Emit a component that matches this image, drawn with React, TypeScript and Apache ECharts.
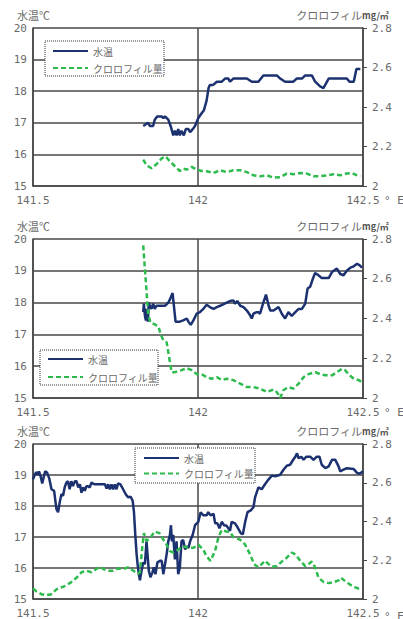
import React, { useEffect, useRef } from "react";
import * as echarts from "echarts";

const xTicks = [141.5, 142, 142.5];
const tempRange = [15, 20];
const chlRange = [2, 2.8];
const seriesNames = ["水温", "クロロフィル量"];

// Panel 1
const lon1T = [141.834,141.849,141.854,141.864,141.869,141.876,141.890,141.895,141.900,141.910,141.917,141.925,141.930,141.935,141.940,141.945,141.950,141.957,141.963,141.971,141.976,141.984,141.991,142.001,142.011,142.018,142.026,142.032,142.036,142.046,142.057,142.072,142.082,142.092,142.097,142.107,142.148,142.163,142.183,142.198,142.239,142.249,142.264,142.289,142.299,142.315,142.325,142.345,142.355,142.370,142.380,142.396,142.451,142.459,142.472,142.480,142.492];
const tmp1 = [16.9,17.0,16.9,16.9,17.1,17.2,17.2,17.15,17.2,17.1,16.9,16.6,16.75,16.6,16.8,16.6,16.75,16.6,16.8,16.8,16.7,16.8,16.9,17.15,17.3,17.4,17.7,18.1,18.2,18.2,18.3,18.3,18.4,18.4,18.3,18.4,18.4,18.3,18.3,18.5,18.5,18.4,18.3,18.3,18.4,18.4,18.5,18.5,18.3,18.15,18.1,18.4,18.4,18.3,18.3,18.7,18.7];
const lon1C = [141.834,141.844,141.859,141.874,141.890,141.902,141.910,141.920,141.930,141.945,141.955,141.966,141.981,141.996,142.011,142.026,142.047,142.067,142.087,142.107,142.128,142.148,142.168,142.188,142.209,142.229,142.249,142.269,142.289,142.310,142.330,142.350,142.370,142.391,142.411,142.431,142.451,142.467,142.482,142.492];
const chl1 = [2.134,2.105,2.09,2.11,2.14,2.15,2.134,2.117,2.10,2.076,2.088,2.083,2.097,2.083,2.076,2.075,2.066,2.08,2.07,2.08,2.08,2.07,2.054,2.049,2.054,2.042,2.045,2.063,2.06,2.066,2.063,2.049,2.05,2.054,2.06,2.054,2.063,2.066,2.054,2.049];

// Panel 2
const lon2T = [141.834,141.836,141.839,141.842,141.845,141.848,141.851,141.854,141.859,141.864,141.869,141.874,141.885,141.900,141.910,141.915,141.923,141.927,141.932,141.945,141.955,141.966,141.971,141.978,141.986,141.996,142.006,142.016,142.026,142.036,142.047,142.057,142.067,142.087,142.097,142.107,142.112,142.119,142.128,142.138,142.148,142.158,142.163,142.168,142.178,142.183,142.188,142.198,142.206,142.214,142.219,142.229,142.244,142.254,142.264,142.274,142.284,142.295,142.305,142.315,142.325,142.332,142.340,142.348,142.355,142.365,142.375,142.396,142.406,142.421,142.431,142.441,142.451,142.462,142.472,142.482,142.490,142.497];
const tmp2 = [17.7,17.97,17.6,17.44,17.8,17.4,18.0,17.9,17.8,17.97,17.8,17.9,17.9,17.9,18.0,18.1,18.3,17.9,17.4,17.4,17.44,17.5,17.4,17.3,17.44,17.65,17.7,17.8,17.93,17.86,17.8,17.86,17.9,18.0,18.05,18.07,17.97,18.05,17.9,17.86,17.75,17.6,17.5,17.65,17.7,17.7,17.65,18.0,18.25,17.9,17.75,17.75,17.86,17.65,17.5,17.7,17.58,17.7,17.8,17.8,17.97,18.44,18.5,18.75,18.93,18.86,18.77,18.77,18.96,19.07,18.9,18.86,19.0,19.1,19.14,19.22,19.17,19.1];
const lon2C = [141.834,141.839,141.844,141.849,141.856,141.869,141.880,141.887,141.895,141.905,141.910,141.915,141.920,141.930,141.950,141.966,141.981,141.996,142.011,142.026,142.041,142.057,142.072,142.087,142.107,142.128,142.148,142.168,142.188,142.209,142.224,142.234,142.244,142.249,142.259,142.274,142.289,142.305,142.320,142.335,142.355,142.370,142.386,142.406,142.421,142.436,142.446,142.456,142.472,142.487,142.497];
const chl2 = [2.768,2.65,2.54,2.42,2.38,2.37,2.36,2.32,2.29,2.28,2.23,2.18,2.13,2.13,2.14,2.15,2.14,2.12,2.12,2.105,2.097,2.105,2.09,2.097,2.09,2.072,2.055,2.055,2.047,2.03,2.04,2.04,2.017,2.0,2.04,2.055,2.047,2.072,2.105,2.12,2.13,2.12,2.114,2.114,2.13,2.147,2.14,2.12,2.097,2.09,2.08];

// Panel 3
const lon3T = [141.500,141.505,141.510,141.515,141.518,141.523,141.528,141.533,141.537,141.543,141.549,141.556,141.564,141.571,141.576,141.581,141.586,141.591,141.596,141.601,141.606,141.611,141.616,141.621,141.627,141.632,141.637,141.642,141.647,141.652,141.657,141.662,141.667,141.672,141.677,141.687,141.702,141.718,141.723,141.728,141.733,141.738,141.743,141.748,141.753,141.758,141.765,141.773,141.781,141.788,141.796,141.802,141.806,141.810,141.814,141.817,141.820,141.824,141.829,141.834,141.839,141.844,141.847,141.851,141.856,141.862,141.866,141.871,141.877,141.885,141.890,141.895,141.900,141.905,141.910,141.915,141.918,141.921,141.925,141.930,141.935,141.940,141.945,141.950,141.955,141.961,141.966,141.971,141.976,141.984,141.991,142.001,142.008,142.016,142.026,142.031,142.038,142.047,142.052,142.059,142.065,142.072,142.079,142.087,142.097,142.102,142.112,142.119,142.130,142.136,142.143,142.150,142.160,142.168,142.173,142.183,142.193,142.203,142.214,142.224,142.234,142.249,142.259,142.269,142.279,142.289,142.295,142.300,142.305,142.313,142.320,142.328,142.340,142.350,142.360,142.368,142.375,142.386,142.396,142.406,142.416,142.426,142.431,142.441,142.451,142.472,142.482,142.490,142.500];
const tmp3 = [18.86,19.0,19.09,19.0,19.12,18.96,18.73,18.96,19.12,19.07,18.9,18.54,18.49,17.9,17.8,18.12,18.38,18.33,18.6,18.75,18.8,18.54,18.8,18.64,18.8,18.8,18.6,18.7,18.43,18.6,18.49,18.64,18.64,18.6,18.75,18.7,18.7,18.7,18.56,18.7,18.54,18.7,18.54,18.7,18.54,18.73,18.7,18.54,18.38,18.28,18.3,18.17,17.8,17.07,16.44,16.12,15.86,15.6,15.91,16.18,16.12,16.86,16.44,15.91,15.7,15.86,16.02,15.8,16.18,16.23,16.23,15.8,16.12,16.44,16.86,17.07,17.38,16.86,17.07,16.28,16.86,15.8,16.02,16.86,16.9,16.6,16.7,16.65,16.86,17.07,17.38,17.49,17.8,17.7,17.7,17.8,17.7,17.75,17.44,17.44,17.28,17.49,17.38,17.36,17.2,17.49,17.44,17.33,17.12,17.09,17.49,17.8,17.86,17.96,18.28,18.6,18.54,18.7,18.86,18.98,18.96,19.01,19.17,19.3,19.33,19.5,19.59,19.7,19.54,19.59,19.49,19.59,19.59,19.49,19.59,19.59,19.33,19.22,19.28,19.49,19.49,19.28,19.12,19.17,19.22,19.19,19.07,19.04,19.12];
const lon3C = [141.500,141.510,141.525,141.540,141.556,141.571,141.586,141.601,141.616,141.632,141.647,141.662,141.677,141.692,141.702,141.713,141.728,141.743,141.758,141.773,141.788,141.804,141.819,141.824,141.831,141.836,141.844,141.854,141.869,141.883,141.895,141.905,141.915,141.925,141.940,141.955,141.971,141.986,142.001,142.016,142.026,142.038,142.052,142.062,142.072,142.087,142.097,142.107,142.122,142.133,142.143,142.158,142.170,142.183,142.193,142.203,142.214,142.224,142.239,142.254,142.269,142.284,142.295,142.310,142.325,142.335,142.345,142.355,142.365,142.381,142.396,142.411,142.426,142.433,142.443,142.456,142.472,142.487,142.497];
const chl3 = [2.054,2.04,2.025,2.02,2.025,2.05,2.06,2.07,2.087,2.11,2.138,2.146,2.138,2.155,2.166,2.155,2.146,2.146,2.158,2.155,2.163,2.146,2.13,2.138,2.264,2.34,2.3,2.313,2.348,2.34,2.306,2.28,2.247,2.24,2.255,2.272,2.264,2.264,2.28,2.255,2.22,2.197,2.25,2.32,2.356,2.348,2.345,2.32,2.31,2.3,2.28,2.23,2.18,2.163,2.18,2.197,2.18,2.166,2.17,2.193,2.213,2.24,2.23,2.197,2.17,2.18,2.193,2.163,2.11,2.087,2.082,2.087,2.096,2.11,2.096,2.08,2.062,2.054,2.057];

const panels = [
  { lonT: lon1T, tmp: tmp1, lonC: lon1C, chl: chl1 },
  { lonT: lon2T, tmp: tmp2, lonC: lon2C, chl: chl2 },
  { lonT: lon3T, tmp: tmp3, lonC: lon3C, chl: chl3 },
];

const FONT = '"Noto Sans CJK JP", "Noto Sans", sans-serif';
const NUM_FONT = '"DejaVu Sans Mono", "Noto Sans CJK JP", monospace';
const GRID_COLOR = "#474747";
const TEXT_COLOR = "#6a6a6a";
const TEMP_COLOR = "#1c3170";
const CHL_COLOR = "#2dbb4e";

const gridBoxes = [
  { left: 33, top: 28, width: 330, height: 158 },
  { left: 33, top: 239, width: 330, height: 159 },
  { left: 33, top: 444, width: 330, height: 158 },
];
const legendBoxes = [
  { x: 45, y: 41, w: 119, h: 35, itemLeft: 52, itemTop: 46, gap: 7 },
  { x: 40, y: 350, w: 118, h: 35, itemLeft: 47, itemTop: 354, gap: 8 },
  { x: 135, y: 448, w: 120, h: 35, itemLeft: 143, itemTop: 453, gap: 5.5 },
];

export default function App() {
  const ref = useRef<HTMLDivElement>(null);
  useEffect(() => {
    if (!ref.current) return;
    const chart = echarts.init(ref.current, undefined, { renderer: "svg" });

    const xAxis = gridBoxes.map((_, i) => ({
      type: "value",
      gridIndex: i,
      min: xTicks[0],
      max: xTicks[2],
      interval: 0.5,
      axisLine: { show: true, lineStyle: { color: GRID_COLOR, width: 1.5 } },
      axisTick: { show: false },
      axisLabel: { color: TEXT_COLOR, fontSize: 11, fontFamily: NUM_FONT, margin: 9 },
      splitLine: { show: true, lineStyle: { color: GRID_COLOR, width: 1.5 } },
    }));

    const yAxis: any[] = [];
    gridBoxes.forEach((_, i) => {
      yAxis.push({
        type: "value",
        gridIndex: i,
        position: "left",
        min: tempRange[0],
        max: tempRange[1],
        interval: 1,
        axisLine: { show: true, lineStyle: { color: GRID_COLOR, width: 1.5 } },
        axisTick: { show: false },
        axisLabel: { color: TEXT_COLOR, fontSize: 11, fontFamily: NUM_FONT, margin: 6 },
        splitLine: { show: true, lineStyle: { color: GRID_COLOR, width: 1.5 } },
      });
      yAxis.push({
        type: "value",
        gridIndex: i,
        position: "right",
        min: chlRange[0],
        max: chlRange[1],
        interval: 0.2,
        axisLine: { show: true, lineStyle: { color: GRID_COLOR, width: 1.5 } },
        axisTick: { show: true, length: 4, lineStyle: { color: GRID_COLOR, width: 1 } },
        axisLabel: { color: TEXT_COLOR, fontSize: 11, fontFamily: NUM_FONT, margin: 9 },
        splitLine: { show: false },
      });
    });

    const series: any[] = [];
    panels.forEach((p, i) => {
      series.push({
        name: seriesNames[0],
        type: "line",
        xAxisIndex: i,
        yAxisIndex: 2 * i,
        symbol: "none",
        data: p.lonT.map((x, k) => [x, p.tmp[k]]),
        lineStyle: { color: TEMP_COLOR, width: 2.5 },
        itemStyle: { color: TEMP_COLOR },
        z: 3,
      });
      series.push({
        name: seriesNames[1],
        type: "line",
        xAxisIndex: i,
        yAxisIndex: 2 * i + 1,
        symbol: "none",
        data: p.lonC.map((x, k) => [x, p.chl[k]]),
        lineStyle: { color: CHL_COLOR, width: 2.5, type: [5, 3] },
        itemStyle: { color: CHL_COLOR },
        z: 3,
      });
    });

    const legend = legendBoxes.map((b) => ({
      left: b.itemLeft,
      top: b.itemTop,
      orient: "vertical",
      itemGap: b.gap,
      itemWidth: 35,
      itemHeight: 10,
      padding: 0,
      selectedMode: false,
      data: seriesNames,
      itemStyle: { opacity: 0 },
      textStyle: { color: TEXT_COLOR, fontSize: 10, fontFamily: FONT },
      z: 12,
    }));

    const graphic: any[] = [];
    gridBoxes.forEach((g, i) => {
      const b = legendBoxes[i];
      graphic.push({
        type: "rect",
        shape: { x: b.x, y: b.y, width: b.w, height: b.h },
        style: { fill: "#fff", stroke: "#333", lineWidth: 1, lineDash: [1, 1] },
        z: 10,
      });
      graphic.push({
        type: "text",
        x: 17,
        y: g.top - 13,
        style: { text: "水温℃", fill: TEXT_COLOR, font: `11px ${FONT}`, verticalAlign: "middle" },
        z: 10,
      });
      graphic.push({
        type: "text",
        x: 362,
        y: g.top - 13,
        style: { text: "クロロフィル", fill: TEXT_COLOR, font: `11px ${FONT}`, align: "right", verticalAlign: "middle" },
        z: 10,
      });
      graphic.push({
        type: "text",
        x: 362,
        y: g.top - 13,
        style: { text: "mg/㎡", fill: "#555", font: `bold 9px ${FONT}`, align: "left", verticalAlign: "middle" },
        z: 10,
      });
      graphic.push({
        type: "text",
        x: 384,
        y: g.top + g.height + 14,
        style: { text: "° E", fill: TEXT_COLOR, font: `11px ${NUM_FONT}`, verticalAlign: "middle" },
        z: 10,
      });
    });

    chart.setOption({
      animation: false,
      backgroundColor: "#fff",
      grid: gridBoxes.map((g) => ({ ...g, containLabel: false })),
      xAxis,
      yAxis,
      series,
      legend,
      graphic,
    });
    return () => chart.dispose();
  }, []);

  return (
    <div
      ref={ref}
      style={{ position: "absolute", left: 0, top: 0, width: 403, height: 619 }}
    />
  );
}
